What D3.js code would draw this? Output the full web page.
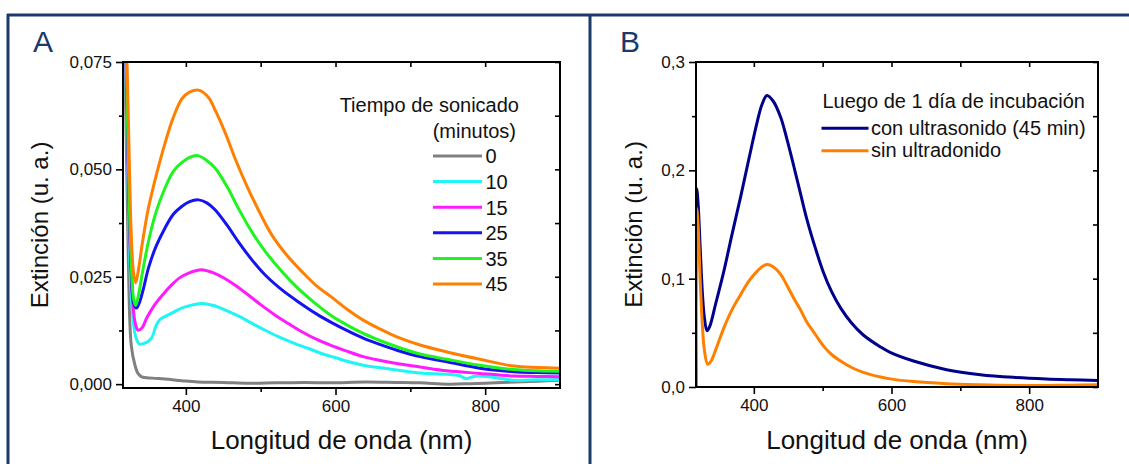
<!DOCTYPE html>
<html>
<head>
<meta charset="utf-8">
<script src="https://cdn.jsdelivr.net/npm/d3@7"></script>
<style>
  body { margin: 0; background: #ffffff; }
  svg text { font-family: "Liberation Sans", Arial, sans-serif; fill: #111; }
</style>
</head>
<body>
<svg id="fig" width="1129" height="464"></svg>
<script>
// ---------- Panel A: extinction spectra vs. sonication time ----------
const sonicTimes = ["0", "10", "15", "25", "35", "45"];
const sonicColors = ["#808080", "#1ff5f5", "#ff1aff", "#1414f0", "#1ef51e", "#ff8000"];

// [wavelength (nm), extinction (a.u.)]
const spec0min = [[316,0.12],[320,0.06],[323,0.03],[327,0.0091],[332,0.0044],[336,0.0025],[341,0.0017],[355,0.0014],
  [372,0.0012],[395,0.0008],[416,0.0005],[450,0.0004],[483,0.0002],[520,0.0003],[560,0.0004],[592,0.0003],[640,0.0005],
  [680,0.0004],[713,0.0003],[750,0.0000],[780,0.0001],[800,0.0002],[840,0.0005],[870,0.0007],[900,0.0009]];
const spec10min = [[316,0.12],[320,0.07],[324,0.035],[328,0.018],[333,0.011],[338,0.0093],[344,0.0095],[350,0.0100],
  [355,0.0110],[360,0.0135],[365,0.0150],[375,0.0160],[385,0.0169],[396,0.0178],[408,0.0184],[422,0.0188],[437,0.0183],
  [452,0.0173],[472,0.0157],[492,0.0138],[510,0.0122],[528,0.0107],[545,0.0095],[564,0.0083],[580,0.0072],[599,0.0062],
  [618,0.0052],[637,0.0044],[660,0.0038],[682,0.0033],[713,0.0026],[749,0.0023],[765,0.0020],[775,0.0013],[785,0.0018],
  [793,0.0019],[815,0.0015],[838,0.0009],[870,0.0010],[900,0.0011]];
const spec15min = [[316,0.12],[320,0.075],[324,0.040],[328,0.022],[332,0.0145],[336,0.0126],[341,0.0130],[348,0.0155],
  [358,0.0184],[370,0.0210],[381,0.0231],[392,0.0248],[403,0.0258],[413,0.0264],[423,0.0266],[437,0.0259],[452,0.0246],
  [467,0.0229],[483,0.0208],[500,0.0185],[519,0.0161],[537,0.0141],[555,0.0122],[575,0.0104],[593,0.0091],[615,0.0077],
  [637,0.0064],[660,0.0055],[682,0.0048],[713,0.0040],[749,0.0031],[793,0.0025],[838,0.0019],[870,0.0018],[900,0.0017]];
const spec25min = [[316,0.12],[320,0.08],[324,0.044],[327,0.027],[330,0.019],[334,0.0177],[338,0.0190],[343,0.0220],
  [350,0.0270],[360,0.0320],[372,0.0363],[383,0.0395],[394,0.0413],[405,0.0425],[417,0.0429],[428,0.0422],[439,0.0406],
  [455,0.0370],[470,0.0332],[488,0.0290],[506,0.0254],[528,0.0220],[550,0.0192],[575,0.0163],[593,0.0145],[615,0.0125],
  [637,0.0107],[660,0.0092],[682,0.0079],[713,0.0064],[749,0.0052],[793,0.0037],[838,0.0029],[870,0.0027],[900,0.0026]];
const spec35min = [[316,0.12],[320,0.08],[324,0.045],[327,0.028],[330,0.020],[333,0.0183],[337,0.0210],[342,0.0260],
  [350,0.0332],[360,0.0400],[372,0.0456],[383,0.0495],[394,0.0515],[405,0.0528],[416,0.0532],[427,0.0522],[439,0.0503],
  [455,0.0460],[470,0.0410],[488,0.0355],[506,0.0309],[528,0.0263],[550,0.0223],[575,0.0185],[593,0.0161],[615,0.0138],
  [637,0.0118],[660,0.0101],[682,0.0087],[713,0.0070],[749,0.0058],[793,0.0044],[838,0.0034],[870,0.0031],[900,0.0030]];
const spec45min = [[316,0.12],[320,0.085],[324,0.055],[327,0.035],[330,0.026],[333,0.0236],[337,0.0270],[342,0.0330],
  [350,0.0410],[361,0.0490],[372,0.0560],[383,0.0620],[395,0.0665],[405,0.0680],[418,0.0684],[430,0.0668],[440,0.0635],
  [452,0.0588],[467,0.0520],[483,0.0456],[500,0.0395],[515,0.0347],[535,0.0300],[555,0.0262],[575,0.0228],[593,0.0205],
  [615,0.0175],[637,0.0149],[660,0.0128],[682,0.0110],[713,0.0091],[749,0.0075],[793,0.0058],[838,0.0042],[870,0.0039],
  [900,0.0037]];
const sonicSpectra = [spec0min, spec10min, spec15min, spec25min, spec35min, spec45min];

const yTicksA = [0, 0.025, 0.05, 0.075];
const yTickLabelsA = ["0,000", "0,025", "0,050", "0,075"];
const yMinorA = [0.0125, 0.0375, 0.0625];

// ---------- Panel B: after one day of incubation ----------
const incubLabels = ["con ultrasonido (45 min)", "sin ultradonido"];
const incubColors = ["#00008b", "#ff8000"];
const specUltra = [[316,0.0],[317,0.183],[319,0.170],[322,0.130],[325,0.090],[328,0.065],[332,0.052],[336,0.056],[345,0.078],
  [356.5,0.107],[368,0.140],[381,0.176],[393,0.211],[405,0.245],[412,0.261],[419,0.269],[428,0.264],[439,0.249],[448,0.229],
  [458,0.204],[468,0.178],[477,0.155],[490,0.127],[501,0.106],[513,0.088],[526,0.073],[542,0.059],[559,0.048],[584,0.037],
  [598,0.032],[632,0.024],[680,0.016],[729,0.0114],[777,0.0089],[825,0.0074],[860,0.0067],[900,0.0061]];
const specNoUltra = [[316,0.08],[317,0.165],[319,0.150],[322,0.100],[325,0.060],[328,0.035],[333,0.021],[338,0.024],[345,0.035],
  [356.5,0.0546],[368,0.071],[381,0.0854],[393,0.098],[405,0.107],[412,0.111],[419,0.113],[428,0.111],[439,0.104],[448,0.094],
  [458,0.082],[468,0.071],[477,0.060],[490,0.048],[501,0.038],[513,0.030],[526,0.024],[542,0.018],[559,0.0135],[584,0.0092],
  [598,0.0075],[632,0.0050],[680,0.0031],[729,0.0021],[777,0.0015],[825,0.0015],[860,0.0017],[900,0.0021]];
const incubSpectra = [specUltra, specNoUltra];

const yTicksB = [0, 0.1, 0.2, 0.3];
const yTickLabelsB = ["0,0", "0,1", "0,2", "0,3"];
const yMinorB = [0.05, 0.15, 0.25];

// shared wavelength axis
const xMajor = [400, 600, 800];
const xMinor = [500, 700];
const xAll = [400, 500, 600, 700, 800];
const xTitle = "Longitud de onda (nm)";
const yTitle = "Extinción (u. a.)";

const svg = d3.select("#fig");
const frameColor = "#1b3a6b";

// outer navy frame and panel divider
svg.append("line").attr("x1", 7).attr("x2", 1129).attr("y1", 15).attr("y2", 15)
  .attr("stroke", frameColor).attr("stroke-width", 3);
svg.append("line").attr("x1", 8).attr("x2", 8).attr("y1", 14).attr("y2", 464)
  .attr("stroke", frameColor).attr("stroke-width", 3);
svg.append("line").attr("x1", 590).attr("x2", 590).attr("y1", 14).attr("y2", 464)
  .attr("stroke", frameColor).attr("stroke-width", 3);

function panel(cfg) {
  const g = svg.append("g");
  const x = d3.scaleLinear().domain([316, 900]).range([cfg.left, cfg.right]);
  const y = d3.scaleLinear().domain(cfg.yDomain).range([cfg.bottom, cfg.top]);

  // panel letter
  g.append("text").attr("x", cfg.letterX).attr("y", 52).text(cfg.letter)
    .style("font-size", "30px").style("fill", frameColor);

  const clipId = "clip" + cfg.letter;
  g.append("clipPath").attr("id", clipId).append("rect")
    .attr("x", cfg.left).attr("y", cfg.top).attr("width", cfg.right - cfg.left).attr("height", cfg.bottom - cfg.top);

  const line = d3.line().x(d => x(d[0])).y(d => y(d[1])).curve(d3.curveCatmullRom.alpha(0.5));
  const curves = g.append("g").attr("clip-path", `url(#${clipId})`);
  cfg.series.forEach((s, i) => {
    curves.append("path").datum(s).attr("d", line).attr("fill", "none")
      .attr("stroke", cfg.colors[i]).attr("stroke-width", 3).attr("stroke-linejoin", "round");
  });

  // bottom axis: labelled majors + short minors, pointing outwards
  g.append("g").attr("transform", `translate(0,${cfg.bottom})`)
    .call(d3.axisBottom(x).tickValues(xMajor).tickSize(7).tickPadding(5).tickFormat(d3.format("d")));
  g.append("g").attr("transform", `translate(0,${cfg.bottom})`)
    .call(d3.axisBottom(x).tickValues(xMinor).tickSize(4).tickFormat(""));
  // top axis: inward ticks
  g.append("g").attr("transform", `translate(0,${cfg.top})`)
    .call(d3.axisBottom(x).tickValues(xAll).tickSize(5).tickFormat(""));
  // left axis
  g.append("g").attr("transform", `translate(${cfg.left},0)`)
    .call(d3.axisLeft(y).tickValues(cfg.yTicks).tickSize(7).tickPadding(4)
      .tickFormat((d, i) => cfg.yLabels[i]));
  g.append("g").attr("transform", `translate(${cfg.left},0)`)
    .call(d3.axisLeft(y).tickValues(cfg.yMinor).tickSize(4).tickFormat(""));
  // right axis: inward ticks
  g.append("g").attr("transform", `translate(${cfg.right},0)`)
    .call(d3.axisLeft(y).tickValues(cfg.yTicks.concat(cfg.yMinor)).tickSize(5).tickFormat(""));

  g.selectAll(".domain").remove();
  g.selectAll(".tick line").attr("stroke", "#000").attr("stroke-width", 1.6);
  g.selectAll(".tick text").style("font-size", "17px").style("font-family", '"Liberation Sans", Arial, sans-serif').attr("fill", "#111");

  // plot box
  g.append("rect").attr("x", cfg.left).attr("y", cfg.top)
    .attr("width", cfg.right - cfg.left).attr("height", cfg.bottom - cfg.top)
    .attr("fill", "none").attr("stroke", "#000").attr("stroke-width", 2);

  // axis titles
  g.append("text").attr("x", (cfg.left + cfg.right) / 2).attr("y", 449)
    .attr("text-anchor", "middle").style("font-size", "26px").text(xTitle);
  g.append("text").attr("transform", `translate(${cfg.yTitleX},${(cfg.top + cfg.bottom) / 2}) rotate(-90)`)
    .attr("text-anchor", "middle").style("font-size", "24px").text(yTitle);

  return { g, x, y };
}

// Panel A
const pA = panel({
  letter: "A", letterX: 33, left: 123, right: 560, top: 62, bottom: 388,
  yDomain: [-0.0009, 0.075], yTicks: yTicksA, yLabels: yTickLabelsA, yMinor: yMinorA,
  series: sonicSpectra, colors: sonicColors, yTitleX: 48
});

// Panel A legend
const legA = pA.g.append("g");
legA.append("text").attr("x", 519).attr("y", 111.5).attr("text-anchor", "end")
  .style("font-size", "20px").text("Tiempo de sonicado");
legA.append("text").attr("x", 516).attr("y", 137.5).attr("text-anchor", "end")
  .style("font-size", "20px").text("(minutos)");
sonicTimes.forEach((t, i) => {
  const yb = 163.3 + i * 25.6;
  legA.append("line").attr("x1", 433).attr("x2", 482).attr("y1", yb - 7.3).attr("y2", yb - 7.3)
    .attr("stroke", sonicColors[i]).attr("stroke-width", 3);
  legA.append("text").attr("x", 485.5).attr("y", yb).style("font-size", "20px").text(t);
});

// Panel B
const pB = panel({
  letter: "B", letterX: 620, left: 696, right: 1098, top: 62, bottom: 387,
  yDomain: [0, 0.3], yTicks: yTicksB, yLabels: yTickLabelsB, yMinor: yMinorB,
  series: incubSpectra, colors: incubColors, yTitleX: 642
});

// Panel B legend
const legB = pB.g.append("g");
legB.append("text").attr("x", 822.5).attr("y", 108.3).style("font-size", "20px")
  .text("Luego de 1 día de incubación");
incubLabels.forEach((t, i) => {
  const yl = 128.3 + i * 22.4;
  legB.append("line").attr("x1", 821.5).attr("x2", 868.5).attr("y1", yl).attr("y2", yl)
    .attr("stroke", incubColors[i]).attr("stroke-width", 3);
  legB.append("text").attr("x", 871).attr("y", yl + 6.5).style("font-size", "20px").text(t);
});
</script>
</body>
</html>
